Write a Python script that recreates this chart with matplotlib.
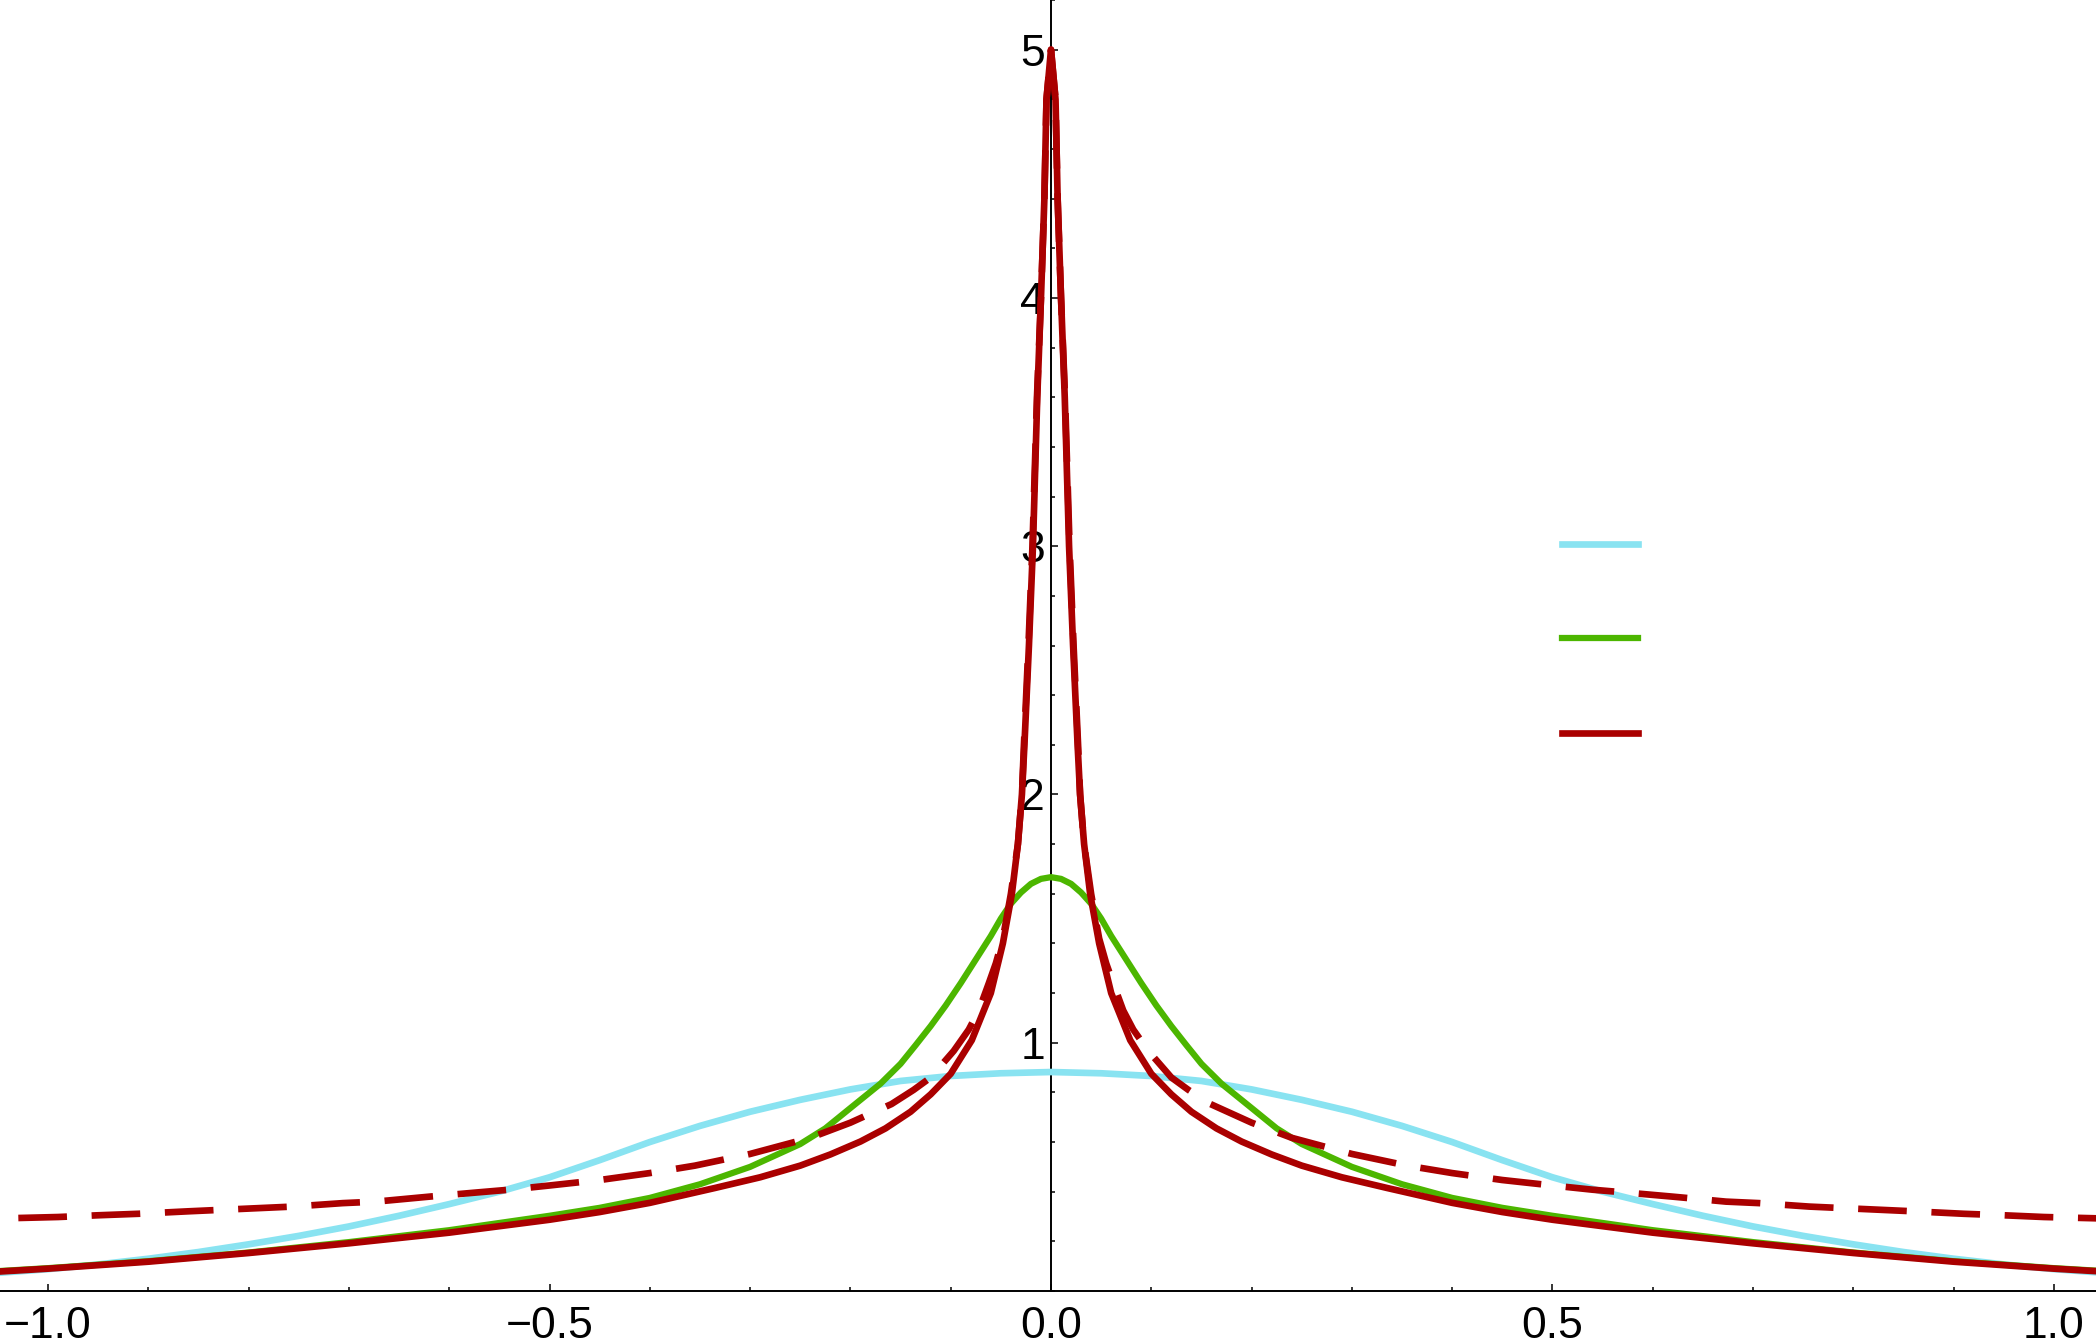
import numpy as np
import matplotlib
matplotlib.use("Agg")
import matplotlib.pyplot as plt
from matplotlib.ticker import MultipleLocator

plt.rcParams['font.family'] = ['Liberation Sans', 'DejaVu Sans']

# ---- values ----
cyan_x = [-1.05, -1.0, -0.95, -0.9, -0.85, -0.8, -0.75, -0.7, -0.65, -0.6, -0.55, -0.5, -0.45, -0.4,
          -0.35, -0.3, -0.25, -0.2, -0.15, -0.1, -0.05, 0.0, 0.05, 0.1, 0.15, 0.2, 0.25, 0.3, 0.35,
          0.4, 0.45, 0.5, 0.55, 0.6, 0.65, 0.7, 0.75, 0.8, 0.85, 0.9, 0.95, 1.0, 1.05]
cyan_y = [0.073, 0.088, 0.107, 0.130, 0.157, 0.188, 0.222, 0.260, 0.303, 0.350, 0.400, 0.458, 0.527, 0.600,
          0.665, 0.722, 0.770, 0.812, 0.846, 0.866, 0.877, 0.882, 0.877, 0.866, 0.846, 0.812, 0.770, 0.722, 0.665,
          0.600, 0.527, 0.458, 0.400, 0.350, 0.303, 0.260, 0.222, 0.188, 0.157, 0.130, 0.107, 0.088, 0.073]

green_x = [-1.05, -1.0, -0.9, -0.8, -0.7, -0.6, -0.5, -0.45, -0.4, -0.35, -0.3, -0.25, -0.225, -0.2,
           -0.17, -0.15, -0.135, -0.12, -0.105, -0.09, -0.075, -0.06, -0.05, -0.04, -0.03, -0.02, -0.01,
           0.0, 0.01, 0.02, 0.03, 0.04, 0.05, 0.06, 0.075, 0.09, 0.105, 0.12, 0.135, 0.15, 0.17, 0.2,
           0.225, 0.25, 0.3, 0.35, 0.4, 0.45, 0.5, 0.6, 0.7, 0.8, 0.9, 1.0, 1.05]
green_y = [0.080, 0.092, 0.120, 0.155, 0.197, 0.245, 0.303, 0.335, 0.375, 0.430, 0.500, 0.592, 0.655, 0.737,
           0.835, 0.915, 0.990, 1.067, 1.150, 1.240, 1.335, 1.430, 1.500, 1.560, 1.605, 1.640, 1.660,
           1.667, 1.660, 1.640, 1.605, 1.560, 1.500, 1.430, 1.335, 1.240, 1.150, 1.067, 0.990, 0.915, 0.835, 0.737,
           0.655, 0.592, 0.500, 0.430, 0.375, 0.335, 0.303, 0.245, 0.197, 0.155, 0.120, 0.092, 0.080]

red_x = [-1.05, -1.0, -0.9, -0.8, -0.7, -0.6, -0.5, -0.45, -0.4, -0.335, -0.29, -0.25, -0.22, -0.19,
         -0.165, -0.14, -0.12, -0.1, -0.079, -0.06, -0.048, -0.039, -0.033, -0.029, -0.0265, -0.022,
         -0.018, -0.0137, -0.01, -0.0066, -0.0045, 0.0, 0.0045, 0.0066, 0.01, 0.0137, 0.018, 0.022,
         0.0265, 0.029, 0.033, 0.039, 0.048, 0.06, 0.079, 0.1, 0.12, 0.14, 0.165, 0.19, 0.22, 0.25,
         0.29, 0.335, 0.4, 0.45, 0.5, 0.6, 0.7, 0.8, 0.9, 1.0, 1.05]
red_y = [0.078, 0.090, 0.118, 0.153, 0.192, 0.235, 0.287, 0.318, 0.355, 0.415, 0.458, 0.505, 0.550, 0.602,
         0.655, 0.722, 0.792, 0.875, 1.01, 1.2, 1.4, 1.6, 1.8, 2.0, 2.2, 2.6,
         3.0, 3.6, 4.0, 4.4, 4.8, 5.0, 4.8, 4.4, 4.0, 3.6, 3.0, 2.6,
         2.2, 2.0, 1.8, 1.6, 1.4, 1.2, 1.01, 0.875, 0.792, 0.722, 0.655, 0.602, 0.550, 0.505,
         0.458, 0.415, 0.355, 0.318, 0.287, 0.235, 0.192, 0.153, 0.118, 0.090, 0.078]

dash_x = [-1.05, -0.99, -0.95, -0.91, -0.86, -0.8, -0.756, -0.706, -0.673, -0.62, -0.575, -0.54, -0.5,
          -0.45, -0.4, -0.355, -0.3, -0.24, -0.2, -0.159, -0.137, -0.12, -0.097, -0.082, -0.072, -0.062,
          -0.055, -0.048, -0.04, -0.033, -0.029, -0.027, -0.0225, -0.0185, -0.014, -0.01, -0.0066, -0.0045,
          0.0, 0.0045, 0.0066, 0.01, 0.014, 0.0185, 0.0225, 0.027, 0.029, 0.033, 0.04, 0.048, 0.055,
          0.062, 0.072, 0.082, 0.097, 0.12, 0.137, 0.159, 0.2, 0.24, 0.3, 0.355, 0.4, 0.45, 0.5, 0.54,
          0.575, 0.62, 0.673, 0.706, 0.756, 0.8, 0.86, 0.91, 0.95, 0.99, 1.05]
dash_y = [0.292, 0.298, 0.305, 0.311, 0.321, 0.332, 0.340, 0.354, 0.360, 0.380, 0.396, 0.408, 0.425,
          0.447, 0.475, 0.505, 0.552, 0.617, 0.678, 0.753, 0.810, 0.860, 0.967, 1.053, 1.130, 1.240,
          1.320, 1.420, 1.6, 1.8, 2.0, 2.2, 2.6, 3.0, 3.6, 4.0, 4.4, 4.8,
          5.0, 4.8, 4.4, 4.0, 3.6, 3.0, 2.6, 2.2, 2.0, 1.8, 1.6, 1.420, 1.320,
          1.240, 1.130, 1.053, 0.967, 0.860, 0.810, 0.753, 0.678, 0.617, 0.552, 0.505, 0.475, 0.447, 0.425, 0.408,
          0.396, 0.380, 0.360, 0.354, 0.340, 0.332, 0.321, 0.311, 0.305, 0.298, 0.292]

xtick_vals = [-1.0, -0.5, 0.0, 0.5, 1.0]
xtick_labels = ['\u22121.0', '\u22120.5', '0.0', '0.5', '1.0']
ytick_vals = [1, 2, 3, 4, 5]
ytick_labels = ['1', '2', '3', '4', '5']

CYAN = '#89E3F1'
GREEN = '#4CB600'
RED = '#AA0000'

fig = plt.figure(figsize=(20.96, 13.44), dpi=100)
ax = fig.add_axes([0, 53 / 1344, 1, 1291 / 1344])

lw = 4.8
l_c, = ax.plot(cyan_x, cyan_y, color=CYAN, lw=lw, zorder=3, solid_joinstyle='round')
l_g, = ax.plot(green_x, green_y, color=GREEN, lw=4.5, zorder=3, solid_joinstyle='round')
l_r, = ax.plot(red_x, red_y, color=RED, lw=lw, zorder=4, solid_joinstyle='round')
ax.plot(dash_x, dash_y, color=RED, lw=lw, zorder=5, linestyle=(8.1, (7.3, 3.7)),
        dash_capstyle='butt')

ax.set_xlim(-1.0479, 1.0419)
ax.set_ylim(0, 5.2)

for s in ['top', 'right']:
    ax.spines[s].set_visible(False)
ax.spines['left'].set_position(('data', 0))
ax.spines['left'].set_linewidth(1.4)
ax.spines['bottom'].set_linewidth(1.4)

ax.set_xticks(xtick_vals)
ax.set_xticklabels(xtick_labels)
ax.set_yticks(ytick_vals)
ax.set_yticklabels(ytick_labels)
ax.xaxis.set_minor_locator(MultipleLocator(0.1))
ax.yaxis.set_minor_locator(MultipleLocator(0.2))
ax.tick_params(which='both', direction='in', width=1.1, labelsize=32)
ax.tick_params(which='major', length=5)
ax.tick_params(which='minor', length=3)
ax.tick_params(axis='x', which='major', pad=11)
ax.tick_params(axis='y', which='major', pad=4.5)
ax.patch.set_alpha(0)

# legend: coloured keys only, no text
leg = ax.legend([l_c, l_g, l_r], ['', '', ''], loc='center',
                bbox_to_anchor=(1600 / 2096, 1 - 641 / 1344), bbox_transform=fig.transFigure,
                frameon=False, fontsize=20, handlelength=2.72, handletextpad=0,
                labelspacing=2.47, borderpad=0, borderaxespad=0)

fig.savefig('out.png', dpi=100, facecolor='white')
